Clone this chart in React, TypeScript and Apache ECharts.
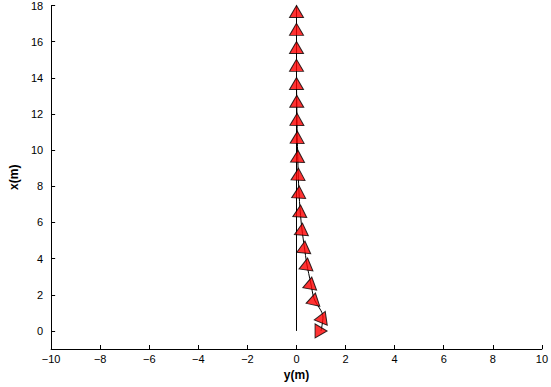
import React, { useEffect, useRef } from "react";
import * as echarts from "echarts";

// lateral position y (m) — horizontal axis
const posY = [1.0, 1.08, 0.72, 0.58, 0.42, 0.32, 0.22, 0.15, 0.1, 0.07, 0.05, 0.03, 0.02, 0.01, 0.0, 0.0, 0.0, 0.0, 0.0];
// longitudinal position x (m) — vertical axis
const posX = [0.0, 0.77, 1.77, 2.65, 3.7, 4.64, 5.63, 6.63, 7.68, 8.67, 9.66, 10.71, 11.7, 12.7, 13.69, 14.69, 15.68, 16.68, 17.67];
// heading rotation of each marker (degrees, counter-clockwise)
const headings = [-90, -22, -12, -10, -8, -6, -5, -4, -3, -2, -2, -1, -1, 0, 0, 0, 0, 0, 0];
// reference path
const refY = [0, 0];
const refX = [0, 18];

const xTicks = [-10, -8, -6, -4, -2, 0, 2, 4, 6, 8, 10];
const yTicks = [0, 2, 4, 6, 8, 10, 12, 14, 16, 18];

const fmt = (v: number) => String(v).replace("-", "\u2212");

export default function App() {
  const ref = useRef<HTMLDivElement>(null);
  useEffect(() => {
    if (!ref.current) return;
    const chart = echarts.init(ref.current, undefined, { renderer: "svg" });
    const font = "'Liberation Sans', Arial, sans-serif";
    chart.setOption({
      animation: false,
      backgroundColor: "#fff",
      grid: { left: 48, right: 8, top: 5, bottom: 38 },
      xAxis: {
        type: "value",
        min: -10,
        max: 10,
        interval: 2,
        name: "y(m)",
        nameLocation: "middle",
        nameGap: 19,
        nameTextStyle: { fontFamily: font, fontSize: 12, fontWeight: "bold", color: "#000" },
        axisLine: { show: true, onZero: false, lineStyle: { color: "#000", width: 1 } },
        axisTick: { show: true, inside: true, length: 4, lineStyle: { color: "#000" }, customValues: xTicks },
        axisLabel: { fontFamily: font, fontSize: 11, color: "#000", margin: 4, formatter: fmt, customValues: xTicks },
        splitLine: { show: false },
      },
      yAxis: {
        type: "value",
        min: -1,
        max: 18,
        name: "x(m)",
        nameLocation: "middle",
        nameGap: 28,
        nameRotate: 90,
        nameTextStyle: { fontFamily: font, fontSize: 12, fontWeight: "bold", color: "#000" },
        axisLine: { show: true, onZero: false, lineStyle: { color: "#000", width: 1 } },
        axisTick: { show: true, inside: true, length: 4, lineStyle: { color: "#000" }, customValues: yTicks },
        axisLabel: { fontFamily: font, fontSize: 11, color: "#000", margin: 8, formatter: fmt, customValues: yTicks },
        splitLine: { show: false },
      },
      series: [
        {
          type: "line",
          data: refY.map((v, i) => [v, refX[i]]),
          showSymbol: false,
          lineStyle: { color: "#000", width: 1 },
          z: 1,
        },
        {
          type: "line",
          data: posY.map((v, i) => [v, posX[i]]),
          showSymbol: false,
          smooth: 0.3,
          lineStyle: { color: "#000", width: 1 },
          z: 2,
        },
        {
          type: "scatter",
          data: posY.map((v, i) => ({ value: [v, posX[i]], symbolRotate: headings[i] })),
          symbol: "triangle",
          symbolSize: [14, 12],
          itemStyle: {
            color: "#ff0000",
            borderColor: "#000",
            borderWidth: 1,
          },
          z: 3,
        },
      ],
    });
    return () => chart.dispose();
  }, []);
  return <div ref={ref} style={{ width: 551, height: 387, position: "absolute", left: 0, top: 0 }} />;
}
